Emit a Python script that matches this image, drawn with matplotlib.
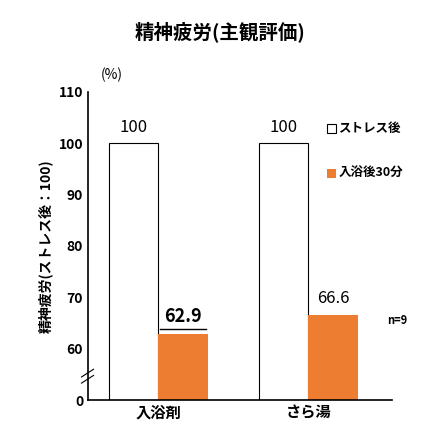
import matplotlib
matplotlib.use("Agg")
import matplotlib.pyplot as plt
import numpy as np

plt.rcParams['font.family'] = ['Noto Sans CJK JP', 'DejaVu Sans']

categories = ["入浴剤", "さら湯"]
after_stress = [100, 100]
after_bath = [62.9, 66.6]
yticks = [50, 60, 70, 80, 90, 100, 110]
ytick_labels = ["0", "60", "70", "80", "90", "100", "110"]
BASE = 50

fig = plt.figure(figsize=(4.4, 4.48), dpi=100)
ax = fig.add_axes([0.2, 0.107, 0.69, 0.688])
x = np.array([0, 1])
w = 0.33
orange = "#ED7D31"
ax.bar(x - w/2, np.array(after_stress) - BASE, w, bottom=BASE, color="white", edgecolor="black", linewidth=0.8)
ax.bar(x + w/2, np.array(after_bath) - BASE, w, bottom=BASE, color=orange)
for xi, v in zip(x, after_stress):
    ax.text(xi - w/2, v + 1.5, f"{v:g}", ha="center", va="bottom", fontsize=12)
ax.text(x[0] + w/2, after_bath[0] + 1.5, f"{after_bath[0]:g}", ha="center", va="bottom", fontsize=13, fontweight="bold")
ax.plot([x[0] + w/2 - 0.15, x[0] + w/2 + 0.15], [after_bath[0] + 1.0]*2, color="black", lw=1)
ax.text(x[1] + w/2, after_bath[1] + 1.5, f"{after_bath[1]:g}", ha="center", va="bottom", fontsize=12)

ax.set_xlim(-0.467, 1.553)
ax.set_ylim(50, 110)
ax.set_yticks(yticks)
ax.set_yticklabels(ytick_labels, fontsize=10, fontweight="bold")
ax.set_xticks(x)
ax.set_xticklabels(categories, fontsize=11, fontweight="bold")
ax.tick_params(axis="x", length=0)
ax.tick_params(axis="y", length=0)
for s in ["top", "right"]:
    ax.spines[s].set_visible(False)
ax.spines["left"].set_linewidth(1.2)
ax.spines["bottom"].set_linewidth(1.2)
ax.set_ylabel("精神疲労(ストレス後：100)", fontsize=10, fontweight="bold")

for dy in [0, 1.2]:
    ax.plot([-0.51, -0.43], [53.3 + dy, 54.8 + dy], color="black", lw=0.8, clip_on=False)

fig.text(0.5, 0.93, "精神疲労(主観評価)", ha="center", va="center", fontsize=14, fontweight="bold")
fig.text(0.255, 0.832, "(%)", ha="center", va="center", fontsize=10)
ax.add_patch(plt.Rectangle((1.12, 101.9), 0.06, 1.75, facecolor="white", edgecolor="black", lw=0.8, clip_on=False))
ax.text(1.2, 102.8, "ストレス後", fontsize=9, fontweight="bold", va="center")
ax.add_patch(plt.Rectangle((1.12, 93.2), 0.06, 1.75, facecolor=orange, clip_on=False))
ax.text(1.2, 94.1, "入浴後30分", fontsize=9, fontweight="bold", va="center")
ax.text(1.59, 65.5, "n=9", fontsize=8, fontweight="bold", va="center", ha="center")

fig.savefig("out.png", dpi=100)
